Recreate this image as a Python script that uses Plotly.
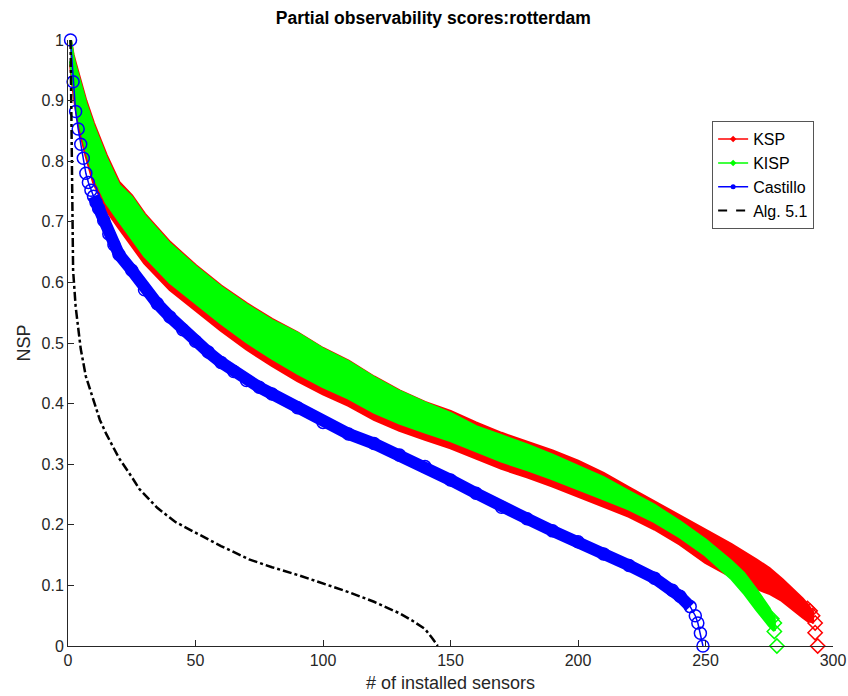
import plotly.graph_objects as go

# ---------------- data ----------------
ksp_x = [1, 2, 3, 5, 7, 10, 15, 20, 25, 30, 40, 50, 60, 70, 80, 90, 100, 110, 120, 130,
         140, 150, 160, 170, 180, 190, 200, 210, 220, 230, 240, 250, 260, 270, 275, 280,
         285, 288, 290, 292]
ksp_hi = [1.0, 0.976, 0.96, 0.93, 0.9, 0.863, 0.81, 0.765, 0.743, 0.713, 0.666, 0.628, 0.594,
          0.565, 0.539, 0.517, 0.491, 0.47, 0.444, 0.421, 0.402, 0.387, 0.368, 0.351, 0.337,
          0.322, 0.305, 0.285, 0.261, 0.238, 0.215, 0.192, 0.168, 0.142, 0.128, 0.11,
          0.09, 0.078, 0.068, 0.056]
ksp_lo = [0.96, 0.92, 0.89, 0.845, 0.81, 0.765, 0.72, 0.69, 0.66, 0.632, 0.588, 0.555,
          0.521, 0.49, 0.463, 0.438, 0.416, 0.397, 0.374, 0.356, 0.341, 0.327, 0.31, 0.293,
          0.279, 0.264, 0.248, 0.231, 0.214, 0.193, 0.168, 0.138, 0.115, 0.095, 0.087, 0.075,
          0.058, 0.048, 0.042, 0.04]
ksp_tail_x = [290, 291, 292, 293, 293, 294]
ksp_tail_y = [0.062, 0.058, 0.05, 0.038, 0.022, 0.0]

kisp_x = [1, 2, 3, 5, 7, 10, 15, 20, 25, 30, 40, 50, 60, 70, 80, 90, 100, 110, 120, 130,
          140, 150, 160, 170, 180, 190, 200, 210, 220, 230, 240, 250, 260, 265, 270, 275,
          277]
kisp_hi = [1.0, 0.972, 0.955, 0.925, 0.895, 0.858, 0.805, 0.76, 0.74, 0.71, 0.663, 0.626,
           0.592, 0.563, 0.537, 0.516, 0.49, 0.469, 0.443, 0.42, 0.401, 0.384, 0.362, 0.347,
           0.332, 0.315, 0.297, 0.278, 0.255, 0.232, 0.205, 0.175, 0.14, 0.12, 0.092, 0.062,
           0.045]
kisp_lo = [0.965, 0.93, 0.9, 0.856, 0.821, 0.776, 0.732, 0.702, 0.672, 0.644, 0.6, 0.567,
           0.533, 0.502, 0.475, 0.45, 0.428, 0.409, 0.386, 0.368, 0.353, 0.339, 0.322, 0.305,
           0.291, 0.276, 0.26, 0.243, 0.226, 0.205, 0.18, 0.15, 0.112, 0.088, 0.06, 0.034,
           0.025]
kisp_tail_x = [276, 277, 277, 278]
kisp_tail_y = [0.045, 0.038, 0.024, 0.0]

cas_x = [1, 2, 3, 4, 5, 6, 7, 8, 9, 10, 11, 12, 14, 16, 18, 20, 25, 30, 35, 40, 45, 50, 55,
         60, 65, 70, 75, 80, 90, 100, 110, 120, 130, 140, 150, 160, 170, 180, 190, 200, 210,
         220, 230, 237, 240, 244, 246, 247, 248, 249]
cas_y = [1.0, 0.931, 0.882, 0.853, 0.828, 0.805, 0.78, 0.765, 0.752, 0.742, 0.732, 0.722,
         0.702, 0.68, 0.662, 0.646, 0.62, 0.588, 0.565, 0.543, 0.522, 0.503, 0.485, 0.468,
         0.453, 0.438, 0.427, 0.416, 0.393, 0.369, 0.35, 0.334, 0.315, 0.296, 0.274, 0.252,
         0.229, 0.21, 0.19, 0.172, 0.152, 0.133, 0.112, 0.092, 0.082, 0.065, 0.05, 0.038,
         0.021, 0.0]

alg_x = [1, 2, 3, 5, 7, 10, 12.5, 15, 20, 25, 28, 35, 42, 50, 60, 71, 80, 91, 100, 110,
         120, 130, 135, 140, 143, 145]
alg_y = [1.0, 0.62, 0.56, 0.49, 0.445, 0.405, 0.373, 0.35, 0.31, 0.279, 0.259, 0.228, 0.205,
         0.187, 0.165, 0.143, 0.13, 0.116, 0.103, 0.089, 0.073, 0.054, 0.042, 0.028, 0.012,
         0.0]

legend_names = ["KSP", "KISP", "Castillo", "Alg. 5.1"]
x_ticks = [0, 50, 100, 150, 200, 250, 300]
y_ticks = [0, 0.1, 0.2, 0.3, 0.4, 0.5, 0.6, 0.7, 0.8, 0.9, 1]
y_tick_text = ["0", "0.1", "0.2", "0.3", "0.4", "0.5", "0.6", "0.7", "0.8", "0.9", "1"]

RED, GREEN, BLUE = "#ff0000", "#00ff00", "#0000ff"
FONT = "Liberation Sans, Arial, Helvetica"

fig = go.Figure()


def band(xs, hi, lo, tx, ty, color):
    # filled band between the lower and upper envelope of the many runs
    fig.add_trace(go.Scatter(x=xs + xs[::-1], y=hi + lo[::-1], fill="toself",
                             fillcolor=color, mode="lines",
                             line=dict(color=color, width=3),
                             showlegend=False, hoverinfo="skip"))
    # individual diamonds visible at the tail end
    fig.add_trace(go.Scatter(x=tx, y=ty, mode="markers",
                             marker=dict(symbol="diamond-open", size=11, color=color,
                                         line=dict(width=1.5)),
                             showlegend=False, cliponaxis=False, hoverinfo="skip"))


band(ksp_x, ksp_hi, ksp_lo, ksp_tail_x, ksp_tail_y, RED)
band(kisp_x, kisp_hi, kisp_lo, kisp_tail_x, kisp_tail_y, GREEN)

# Castillo: dense overlapping circles -> thick band plus circle markers
k = cas_x.index(10)
fig.add_trace(go.Scatter(x=cas_x[k:-4], y=cas_y[k:-4], mode="lines",
                         line=dict(color=BLUE, width=12),
                         showlegend=False, hoverinfo="skip"))
fig.add_trace(go.Scatter(x=cas_x, y=cas_y, mode="lines+markers",
                         line=dict(color=BLUE, width=1.5),
                         marker=dict(symbol="circle-open", size=12, color=BLUE,
                                     line=dict(width=1.5)),
                         showlegend=False, cliponaxis=False, hoverinfo="skip"))

fig.add_trace(go.Scatter(x=alg_x, y=alg_y, mode="lines",
                         line=dict(color="black", width=2.5, dash="dashdot"),
                         showlegend=False, hoverinfo="skip"))

# legend-only entries
leg_styles = [(RED, "diamond"), (GREEN, "diamond"), (BLUE, "circle"), ("black", None)]
for name, (c, sym) in zip(legend_names, leg_styles):
    if sym:
        fig.add_trace(go.Scatter(x=[None], y=[None], mode="lines+markers", name=name,
                                 line=dict(color=c, width=1.5),
                                 marker=dict(symbol=sym, size=5, color=c)))
    else:
        fig.add_trace(go.Scatter(x=[None], y=[None], mode="lines", name=name,
                                 line=dict(color=c, width=2, dash="dash")))

axis_common = dict(showgrid=False, zeroline=False, showline=True, linecolor="#262626",
                   linewidth=1, ticks="inside", ticklen=6, tickcolor="#262626",
                   tickfont=dict(family=FONT, size=16, color="#262626"),
                   mirror=False, automargin=False)

fig.update_layout(
    width=848, height=696,
    margin=dict(l=68, r=15, t=40, b=50),
    paper_bgcolor="white", plot_bgcolor="white",
    title=dict(text="<b>Partial observability scores:rotterdam</b>",
               font=dict(family=FONT, size=17.5, color="black"),
               x=0.511, xanchor="center", y=0.974, yanchor="middle"),
    xaxis=dict(range=[0, 300], tickvals=x_ticks,
               title=dict(text="# of installed sensors", standoff=8,
                          font=dict(family=FONT, size=18, color="#262626")),
               **axis_common),
    yaxis=dict(range=[0, 1], tickvals=y_ticks, ticktext=y_tick_text,
               title=dict(text="NSP", standoff=6,
                          font=dict(family=FONT, size=18, color="#262626")),
               **axis_common),
    legend=dict(x=0.842, y=0.866, xanchor="left", yanchor="top",
                bgcolor="white", bordercolor="#555", borderwidth=1,
                font=dict(family=FONT, size=16, color="black"),
                tracegroupgap=0, itemwidth=30),
    showlegend=True,
)

fig.write_html("out.html")
